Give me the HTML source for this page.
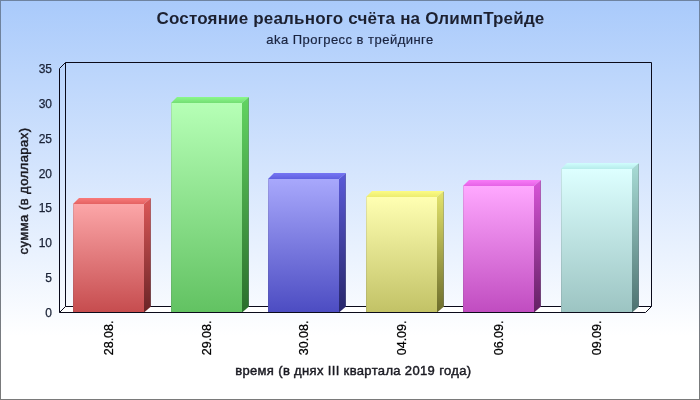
<!DOCTYPE html>
<html><head><meta charset="utf-8">
<style>
html,body{margin:0;padding:0;width:700px;height:400px;overflow:hidden;background:#fff}
svg{display:block;will-change:transform}
text{font-family:"Liberation Sans",Arial,sans-serif}
</style></head>
<body>
<svg width="700" height="400" viewBox="0 0 700 400">
<defs>
<linearGradient id="bg" x1="0" y1="0" x2="0" y2="1">
<stop offset="0" stop-color="#a9cafb"/>
<stop offset="0.84" stop-color="#ffffff"/>
</linearGradient>
<linearGradient id="bd" x1="0" y1="0" x2="0" y2="1">
<stop offset="0" stop-color="#6e83a0"/>
<stop offset="1" stop-color="#7a7a7a"/>
</linearGradient>
<!-- bar gradients: front, top, side -->
<linearGradient id="f1" x1="0" y1="0" x2="0" y2="1"><stop offset="0" stop-color="#fca6a8"/><stop offset="1" stop-color="#c64c4e"/></linearGradient>
<linearGradient id="s1" x1="0" y1="0" x2="0" y2="1"><stop offset="0" stop-color="#dc5858"/><stop offset="1" stop-color="#6a2426"/></linearGradient>
<linearGradient id="t1" x1="0" y1="0" x2="0" y2="1"><stop offset="0" stop-color="#f87a7a"/><stop offset="1" stop-color="#e46262"/></linearGradient>
<linearGradient id="f2" x1="0" y1="0" x2="0" y2="1"><stop offset="0" stop-color="#b6ffb6"/><stop offset="1" stop-color="#62c262"/></linearGradient>
<linearGradient id="s2" x1="0" y1="0" x2="0" y2="1"><stop offset="0" stop-color="#62d462"/><stop offset="1" stop-color="#2a6e2c"/></linearGradient>
<linearGradient id="t2" x1="0" y1="0" x2="0" y2="1"><stop offset="0" stop-color="#8af88a"/><stop offset="1" stop-color="#74de74"/></linearGradient>
<linearGradient id="f3" x1="0" y1="0" x2="0" y2="1"><stop offset="0" stop-color="#a8a8fc"/><stop offset="1" stop-color="#4c4cc2"/></linearGradient>
<linearGradient id="s3" x1="0" y1="0" x2="0" y2="1"><stop offset="0" stop-color="#5a5ad8"/><stop offset="1" stop-color="#26266a"/></linearGradient>
<linearGradient id="t3" x1="0" y1="0" x2="0" y2="1"><stop offset="0" stop-color="#7676f4"/><stop offset="1" stop-color="#6060e0"/></linearGradient>
<linearGradient id="f4" x1="0" y1="0" x2="0" y2="1"><stop offset="0" stop-color="#ffffb2"/><stop offset="1" stop-color="#c2c266"/></linearGradient>
<linearGradient id="s4" x1="0" y1="0" x2="0" y2="1"><stop offset="0" stop-color="#e4e46c"/><stop offset="1" stop-color="#6c6c2c"/></linearGradient>
<linearGradient id="t4" x1="0" y1="0" x2="0" y2="1"><stop offset="0" stop-color="#fcfc84"/><stop offset="1" stop-color="#ecec70"/></linearGradient>
<linearGradient id="f5" x1="0" y1="0" x2="0" y2="1"><stop offset="0" stop-color="#ffa8ff"/><stop offset="1" stop-color="#c04cc0"/></linearGradient>
<linearGradient id="s5" x1="0" y1="0" x2="0" y2="1"><stop offset="0" stop-color="#d854d8"/><stop offset="1" stop-color="#622062"/></linearGradient>
<linearGradient id="t5" x1="0" y1="0" x2="0" y2="1"><stop offset="0" stop-color="#f87af8"/><stop offset="1" stop-color="#e662e6"/></linearGradient>
<linearGradient id="f6" x1="0" y1="0" x2="0" y2="1"><stop offset="0" stop-color="#ddffff"/><stop offset="1" stop-color="#9cc4c2"/></linearGradient>
<linearGradient id="s6" x1="0" y1="0" x2="0" y2="1"><stop offset="0" stop-color="#a8dcd6"/><stop offset="1" stop-color="#4e7270"/></linearGradient>
<linearGradient id="t6" x1="0" y1="0" x2="0" y2="1"><stop offset="0" stop-color="#d0fdfd"/><stop offset="1" stop-color="#b6ecea"/></linearGradient>
</defs>
<!-- background -->
<rect x="0" y="0" width="700" height="400" fill="url(#bg)"/>
<!-- border -->
<rect x="0" y="0" width="700" height="1" fill="#6e83a0"/>
<rect x="0" y="399" width="700" height="1" fill="#7a7a7a"/>
<rect x="0" y="0" width="1" height="400" fill="url(#bd)"/>
<rect x="699" y="0" width="1" height="400" fill="url(#bd)"/>

<!-- floor -->
<polygon points="59.5,312.5 65.5,306.5 651.5,306.5 645.5,312.5" fill="#ffffff"/>

<!-- back lines -->
<g stroke="#0a0a1a" stroke-width="1" fill="none">
<polyline points="65.5,306.5 65.5,62.5 651.5,62.5 651.5,306.5"/>
<line x1="65.5" y1="306.5" x2="651.5" y2="306.5"/>
</g>
<!-- bars -->
<g id="bars">
<!-- bar1 -->
<polygon points="73,204 79,198 151,198 144,204" fill="url(#t1)"/>
<polygon points="144,204 151,198 151,306.5 144,312.5" fill="url(#s1)"/>
<rect x="150" y="199" width="1" height="107.0" fill="#707888" fill-opacity="0.35"/>
<rect x="73" y="204" width="71" height="108.5" fill="url(#f1)"/>
<rect x="73" y="204" width="1" height="108.5" fill="#505060" fill-opacity="0.15"/>
<!-- bar2 -->
<polygon points="171,103 177,97 249,97 242,103" fill="url(#t2)"/>
<polygon points="242,103 249,97 249,306.5 242,312.5" fill="url(#s2)"/>
<rect x="248" y="98" width="1" height="208.0" fill="#707888" fill-opacity="0.35"/>
<rect x="171" y="103" width="71" height="209.5" fill="url(#f2)"/>
<rect x="171" y="103" width="1" height="209.5" fill="#505060" fill-opacity="0.15"/>
<!-- bar3 -->
<polygon points="268,179 274,173 346,173 339,179" fill="url(#t3)"/>
<polygon points="339,179 346,173 346,306.5 339,312.5" fill="url(#s3)"/>
<rect x="345" y="174" width="1" height="132.0" fill="#707888" fill-opacity="0.35"/>
<rect x="268" y="179" width="71" height="133.5" fill="url(#f3)"/>
<rect x="268" y="179" width="1" height="133.5" fill="#505060" fill-opacity="0.15"/>
<!-- bar4 -->
<polygon points="366,197 372,191 444,191 437,197" fill="url(#t4)"/>
<polygon points="437,197 444,191 444,306.5 437,312.5" fill="url(#s4)"/>
<rect x="443" y="192" width="1" height="114.0" fill="#707888" fill-opacity="0.35"/>
<rect x="366" y="197" width="71" height="115.5" fill="url(#f4)"/>
<rect x="366" y="197" width="1" height="115.5" fill="#505060" fill-opacity="0.15"/>
<!-- bar5 -->
<polygon points="463,186 469,180 541,180 534,186" fill="url(#t5)"/>
<polygon points="534,186 541,180 541,306.5 534,312.5" fill="url(#s5)"/>
<rect x="540" y="181" width="1" height="125.0" fill="#707888" fill-opacity="0.35"/>
<rect x="463" y="186" width="71" height="126.5" fill="url(#f5)"/>
<rect x="463" y="186" width="1" height="126.5" fill="#505060" fill-opacity="0.15"/>
<!-- bar6 -->
<polygon points="561,169 567,163 639,163 632,169" fill="url(#t6)"/>
<polygon points="632,169 639,163 639,306.5 632,312.5" fill="url(#s6)"/>
<rect x="638" y="164" width="1" height="142.0" fill="#707888" fill-opacity="0.35"/>
<rect x="561" y="169" width="71" height="143.5" fill="url(#f6)"/>
<rect x="561" y="169" width="1" height="143.5" fill="#505060" fill-opacity="0.15"/>
</g>

<!-- frame lines -->
<g stroke="#0a0a1a" stroke-width="1" fill="none">
<polyline points="65.5,62.5 59.5,68.5 59.5,312.5 645.5,312.5 651.5,306.5"/>
<line x1="59.5" y1="312.5" x2="65.5" y2="306.5"/>
</g>

<!-- title -->
<text x="350.5" y="24" text-anchor="middle" font-size="17" font-weight="bold" fill="#1c2030" letter-spacing="0.18">Состояние реального счёта на ОлимпТрейде</text>
<text x="350" y="44" text-anchor="middle" font-size="13" fill="#1a2440" stroke="#1a2440" stroke-width="0.2" letter-spacing="0.47">aka Прогресс в трейдинге</text>

<!-- y labels -->
<g font-size="12" fill="#1a2236" stroke="#1a2236" stroke-width="0.25" text-anchor="end">
<text x="52" y="73">35</text>
<text x="52" y="108">30</text>
<text x="52" y="143">25</text>
<text x="52" y="178">20</text>
<text x="52" y="212">15</text>
<text x="52" y="247">10</text>
<text x="52" y="282">5</text>
<text x="52" y="317">0</text>
</g>

<!-- y title -->
<text transform="translate(28,191) rotate(-90)" text-anchor="middle" font-size="13" fill="#1a1a22" stroke="#1a1a22" stroke-width="0.45" letter-spacing="0.46">сумма (в долларах)</text>

<!-- x labels -->
<g font-size="12.5" fill="#000" stroke="#000" stroke-width="0.25" text-anchor="end">
<text transform="translate(112.9,320.5) rotate(-90)">28.08.</text>
<text transform="translate(210.9,320.5) rotate(-90)">29.08.</text>
<text transform="translate(307.9,320.5) rotate(-90)">30.08.</text>
<text transform="translate(405.9,320.5) rotate(-90)">04.09.</text>
<text transform="translate(502.9,320.5) rotate(-90)">06.09.</text>
<text transform="translate(600.9,320.5) rotate(-90)">09.09.</text>
</g>

<!-- x title -->
<text x="353.3" y="374.5" text-anchor="middle" font-size="13" fill="#1a1a22" stroke="#1a1a22" stroke-width="0.45" letter-spacing="0.35">время (в днях III квартала 2019 года)</text>
</svg>
</body></html>
